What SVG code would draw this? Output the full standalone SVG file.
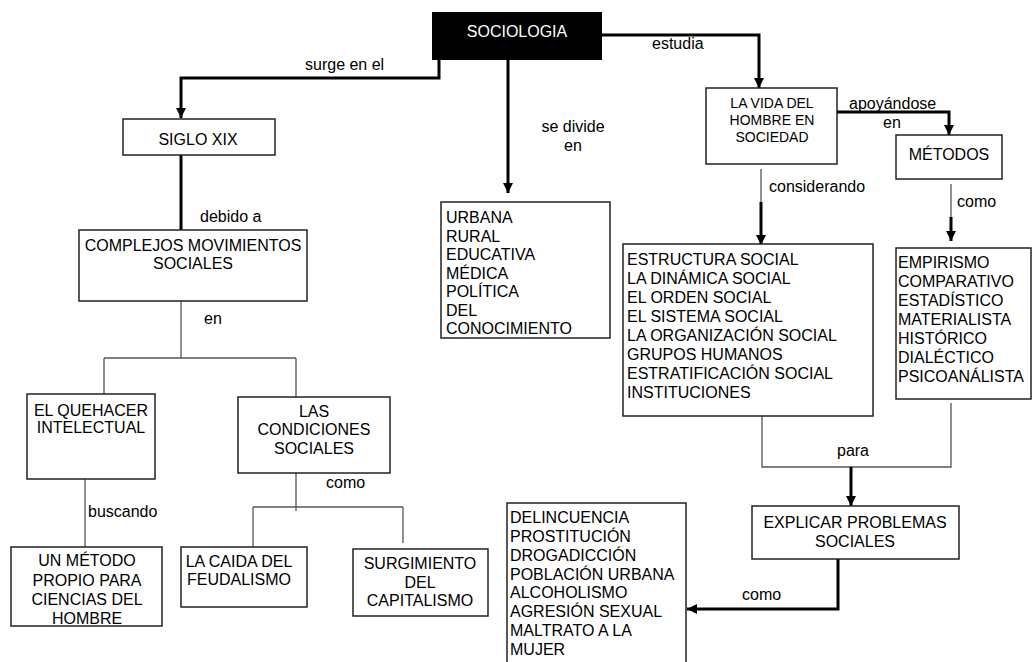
<svg xmlns="http://www.w3.org/2000/svg" width="1035" height="662" viewBox="0 0 1035 662">
<style>
text{font-family:"Liberation Sans",Arial,sans-serif;font-size:16px;fill:#000}
.c{text-anchor:middle}
.box{fill:#fff;stroke:#222;stroke-width:1.5}
.thick{fill:none;stroke:#000;stroke-width:3}
.thin{fill:none;stroke:#555;stroke-width:1.3}
</style>
<defs>
<marker id="ah" markerUnits="userSpaceOnUse" markerWidth="10" markerHeight="10" refX="10" refY="5" orient="auto">
<path d="M0,0 L10,5 L0,10 z" fill="#000"/>
</marker>
</defs>
<rect width="1035" height="662" fill="#fff"/>
<g id="connectors">
<path class="thick" d="M439,60 V78 H181 V118" marker-end="url(#ah)"/>
<path class="thick" d="M602,35 H759 V88" marker-end="url(#ah)"/>
<path class="thick" d="M508,60 V193" marker-end="url(#ah)"/>
<path class="thick" d="M837,112 H949 V135" marker-end="url(#ah)"/>
<path class="thin" d="M761,169 V202"/>
<path class="thick" d="M761,202 V245" marker-end="url(#ah)"/>
<path class="thin" d="M951,184 V217"/>
<path class="thick" d="M951,217 V241" marker-end="url(#ah)"/>
<path class="thin" d="M762,416 V467 H951 V403"/>
<path class="thick" d="M851,467 V506" marker-end="url(#ah)"/>
<path class="thick" d="M838,559 V609 H687" marker-end="url(#ah)"/>
<path class="thick" d="M181,155 V230"/>
<path class="thin" d="M181,301 V358 M104,358 H296 M104,358 V394 M296,358 V397"/>
<path class="thin" d="M85,479 V547"/>
<path class="thin" d="M296,473 V511 M253,507 H403 M253,507 V547 M403,507 V543"/>
<text x="305" y="70">surge en el</text>
<text x="652" y="49">estudia</text>
<text class="c" x="573" y="132">se divide</text>
<text class="c" x="573" y="151">en</text>
<text x="849" y="109">apoyándose</text>
<text x="883" y="128">en</text>
<text x="769" y="192">considerando</text>
<text x="957" y="207">como</text>
<text x="200" y="222">debido a</text>
<text x="204" y="324">en</text>
<text x="88" y="517">buscando</text>
<text x="326" y="488">como</text>
<text class="c" x="853" y="456">para</text>
<text x="742" y="600">como</text>
</g>
<g id="sociologia">
<rect x="432" y="12" width="170" height="48" fill="#000"/>
<text class="c" x="517" y="37" style="fill:#fff">SOCIOLOGIA</text>
</g>
<g id="siglo">
<rect class="box" x="123" y="119" width="152" height="36"/>
<text class="c" x="198" y="145">SIGLO XIX</text>
</g>
<g id="vida">
<rect class="box" x="706" y="88" width="131" height="76"/>
<text class="c" x="772" y="108" style="font-size:14px">LA VIDA DEL</text>
<text class="c" x="772" y="125" style="font-size:14px">HOMBRE EN</text>
<text class="c" x="772" y="142" style="font-size:14px">SOCIEDAD</text>
</g>
<g id="metodos">
<rect class="box" x="896" y="135" width="106" height="44"/>
<text class="c" x="949" y="160">MÉTODOS</text>
</g>
<g id="ramas">
<rect class="box" x="441" y="202" width="169" height="136"/>
<text x="446" y="223">URBANA</text>
<text x="446" y="241.5">RURAL</text>
<text x="446" y="260">EDUCATIVA</text>
<text x="446" y="278.5">MÉDICA</text>
<text x="446" y="297">POLÍTICA</text>
<text x="446" y="315.5">DEL</text>
<text x="446" y="334">CONOCIMIENTO</text>
</g>
<g id="estructura">
<rect class="box" x="623" y="244" width="250" height="172"/>
<text x="627" y="265">ESTRUCTURA SOCIAL</text>
<text x="627" y="284">LA DINÁMICA SOCIAL</text>
<text x="627" y="303">EL ORDEN SOCIAL</text>
<text x="627" y="322">EL SISTEMA SOCIAL</text>
<text x="627" y="341">LA ORGANIZACIÓN SOCIAL</text>
<text x="627" y="360">GRUPOS HUMANOS</text>
<text x="627" y="379">ESTRATIFICACIÓN SOCIAL</text>
<text x="627" y="398">INSTITUCIONES</text>
</g>
<g id="empirismo">
<rect class="box" x="896" y="248" width="135" height="151"/>
<text x="898" y="268">EMPIRISMO</text>
<text x="898" y="287">COMPARATIVO</text>
<text x="898" y="306">ESTADÍSTICO</text>
<text x="898" y="325">MATERIALISTA</text>
<text x="898" y="344">HISTÓRICO</text>
<text x="898" y="363">DIALÉCTICO</text>
<text x="898" y="382">PSICOANÁLISTA</text>
</g>
<g id="explicar">
<rect class="box" x="752" y="506" width="207" height="53"/>
<text class="c" x="855" y="528">EXPLICAR PROBLEMAS</text>
<text class="c" x="855" y="547">SOCIALES</text>
</g>
<g id="problemas">
<rect class="box" x="507" y="503" width="179" height="170"/>
<text x="510" y="523">DELINCUENCIA</text>
<text x="510" y="542">PROSTITUCIÓN</text>
<text x="510" y="561">DROGADICCIÓN</text>
<text x="510" y="580">POBLACIÓN URBANA</text>
<text x="510" y="598">ALCOHOLISMO</text>
<text x="510" y="617">AGRESIÓN SEXUAL</text>
<text x="510" y="636">MALTRATO A LA</text>
<text x="510" y="655">MUJER</text>
</g>
<g id="complejos">
<rect class="box" x="79" y="230" width="228" height="71"/>
<text class="c" x="193" y="251">COMPLEJOS MOVIMIENTOS</text>
<text class="c" x="193" y="269">SOCIALES</text>
</g>
<g id="quehacer">
<rect class="box" x="27" y="394" width="128" height="85"/>
<text class="c" x="91" y="416">EL QUEHACER</text>
<text class="c" x="91" y="433">INTELECTUAL</text>
</g>
<g id="condiciones">
<rect class="box" x="238" y="397" width="152" height="76"/>
<text class="c" x="314" y="417">LAS</text>
<text class="c" x="314" y="435">CONDICIONES</text>
<text class="c" x="314" y="454">SOCIALES</text>
</g>
<g id="metodo-propio">
<rect class="box" x="11" y="547" width="151" height="79"/>
<text class="c" x="87" y="566">UN MÉTODO</text>
<text class="c" x="87" y="586">PROPIO PARA</text>
<text class="c" x="87" y="605">CIENCIAS DEL</text>
<text class="c" x="87" y="624">HOMBRE</text>
</g>
<g id="caida">
<rect class="box" x="181" y="547" width="126" height="60"/>
<text class="c" x="239" y="567">LA CAIDA DEL</text>
<text class="c" x="239" y="585">FEUDALISMO</text>
</g>
<g id="capitalismo">
<rect class="box" x="353" y="549" width="135" height="67"/>
<text class="c" x="420" y="569">SURGIMIENTO</text>
<text class="c" x="420" y="588">DEL</text>
<text class="c" x="420" y="606">CAPITALISMO</text>
</g>
</svg>
